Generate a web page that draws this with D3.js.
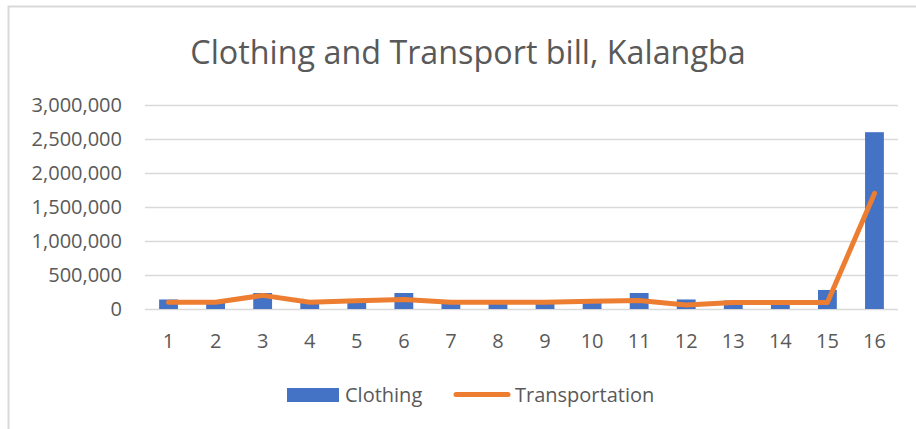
<!DOCTYPE html>
<html>
<head>
<meta charset="utf-8">
<script src="https://cdn.jsdelivr.net/npm/d3@7"></script>
<style>
  body { margin: 0; background: #fff; }
  text { font-family: "Open Sans", sans-serif; fill: #595959; }
</style>
</head>
<body>
<div id="chart"></div>
<script>
const categories = ["1","2","3","4","5","6","7","8","9","10","11","12","13","14","15","16"];
const clothing = [140000, 125000, 235000, 125000, 125000, 235000, 125000, 125000, 125000, 125000, 235000, 140000, 125000, 125000, 280000, 2600000];
const transportation = [100000, 100000, 200000, 100000, 120000, 140000, 100000, 100000, 100000, 115000, 125000, 60000, 95000, 95000, 95000, 1700000];
const yTicks = [0, 500000, 1000000, 1500000, 2000000, 2500000, 3000000];
const title = "Clothing and Transport bill, Kalangba";

const width = 916, height = 429;
const margin = {left: 145, right: 18, top: 105, bottom: 120};

const svg = d3.select("#chart").append("svg")
    .attr("width", width)
    .attr("height", height);

// chart frame (only top and left edges are visible in the picture)
svg.append("path")
    .attr("d", "M8.5,429 L8.5,6.5 L916,6.5")
    .attr("fill", "none")
    .attr("stroke", "#d9d9d9")
    .attr("stroke-width", 2);

const x = d3.scaleBand()
    .domain(categories)
    .range([margin.left, width - margin.right])
    .paddingInner(0.6)
    .paddingOuter(0.3);

const y = d3.scaleLinear()
    .domain([0, 3000000])
    .range([height - margin.bottom, margin.top]);

// gridlines
svg.append("g")
    .selectAll("line")
    .data(yTicks)
    .join("line")
    .attr("x1", margin.left)
    .attr("x2", width - margin.right)
    .attr("y1", d => Math.round(y(d)) + 0.5)
    .attr("y2", d => Math.round(y(d)) + 0.5)
    .attr("stroke", "#d9d9d9")
    .attr("stroke-width", 1.3);

// y axis labels
const fmt = d3.format(",");
svg.append("g")
    .selectAll("text")
    .data(yTicks)
    .join("text")
    .attr("x", 122)
    .attr("y", d => y(d))
    .attr("dy", "0.35em")
    .attr("text-anchor", "end")
    .style("font-size", "20px")
    .text(d => fmt(d));

// bars
svg.append("g")
    .selectAll("rect")
    .data(clothing)
    .join("rect")
    .attr("x", (d, i) => x(categories[i]))
    .attr("width", x.bandwidth())
    .attr("y", d => y(d))
    .attr("height", d => y(0) - y(d))
    .attr("fill", "#4472c4");

// line
const line = d3.line()
    .x((d, i) => x(categories[i]) + x.bandwidth() / 2)
    .y(d => y(d));

svg.append("path")
    .datum(transportation)
    .attr("d", line)
    .attr("fill", "none")
    .attr("stroke", "#ed7d31")
    .attr("stroke-width", 5)
    .attr("stroke-linecap", "round")
    .attr("stroke-linejoin", "round");

// x axis labels
svg.append("g")
    .selectAll("text")
    .data(categories)
    .join("text")
    .attr("x", d => x(d) + x.bandwidth() / 2)
    .attr("y", 348)
    .attr("text-anchor", "middle")
    .style("font-size", "20px")
    .text(d => d);

// title
svg.append("text")
    .attr("x", 468)
    .attr("y", 64)
    .attr("text-anchor", "middle")
    .style("font-size", "32.3px")
    .text(title);

// legend
const legend = svg.append("g");
legend.append("rect")
    .attr("x", 287).attr("y", 388)
    .attr("width", 52).attr("height", 14)
    .attr("fill", "#4472c4");
legend.append("text")
    .attr("x", 345).attr("y", 402)
    .style("font-size", "20px")
    .text("Clothing");
legend.append("line")
    .attr("x1", 456).attr("x2", 508)
    .attr("y1", 394.5).attr("y2", 394.5)
    .attr("stroke", "#ed7d31")
    .attr("stroke-width", 5)
    .attr("stroke-linecap", "round");
legend.append("text")
    .attr("x", 515).attr("y", 402)
    .style("font-size", "20px")
    .text("Transportation");
</script>
</body>
</html>
